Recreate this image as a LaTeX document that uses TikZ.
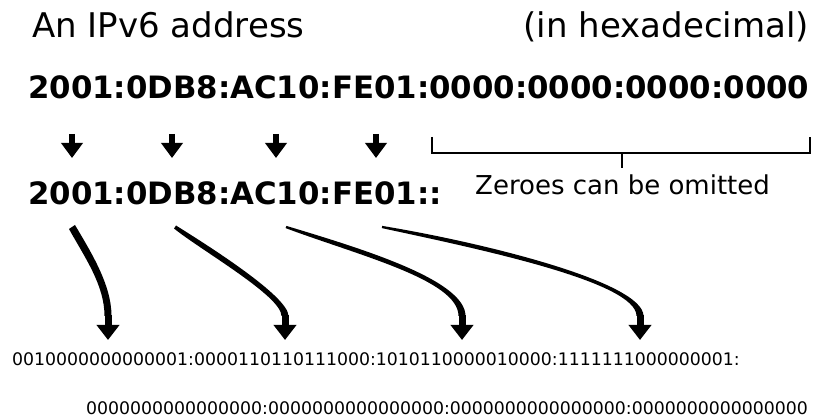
\documentclass[tikz,border=0pt]{standalone}
\usepackage{fontspec}
\setmainfont{DejaVu Sans}
\usetikzlibrary{arrows.meta,calc}

\tikzset{
  heading/.style={inner sep=0pt, font=\fontsize{34}{40}\selectfont},
  hexaddr/.style={inner sep=0pt, font=\fontsize{30.8}{36}\selectfont\bfseries},
  remark/.style={inner sep=0pt, font=\fontsize{26}{30}\selectfont},
  bits/.style={inner sep=0pt, font=\fontsize{17.3}{20}\selectfont},
  hexarrow/.style={line width=5.5pt, -{Triangle[width=21pt,length=15pt]}},
  bitarrow/.style={line width=7pt, -{Triangle[width=22pt,length=15pt]}},
  bracket/.style={line width=2.2pt},
}

\begin{document}
\begin{tikzpicture}[x=1pt,y=-1pt]
\useasboundingbox (0,0) rectangle (814,419);

\node[heading, anchor=base west] (title) at (32,38) {An IPv6 address};
\node[heading, anchor=base east] (hexnote) at (809,38) {(in hexadecimal)};

\node[hexaddr, anchor=base west] (full) at (28,99) {2001:0DB8:AC10:FE01:0000:0000:0000:0000};
\node[hexaddr, anchor=base west] (short) at (28,205) {2001:0DB8:AC10:FE01::};

\node[remark, anchor=base west] (omit) at (475,195) {Zeroes can be omitted};

\node[bits, anchor=base west] (bin1) at (12,366) {0010000000000001:0000110110111000:1010110000010000:1111111000000001:};
\node[bits, anchor=base west] (bin2) at (86,414) {0000000000000000:0000000000000000:0000000000000000:0000000000000000};

\coordinate (a1) at (72,134);  \coordinate (b1) at (72,158);
\coordinate (a2) at (172,134); \coordinate (b2) at (172,158);
\coordinate (a3) at (276,134); \coordinate (b3) at (276,158);
\coordinate (a4) at (376,134); \coordinate (b4) at (376,158);
\draw[hexarrow] (a1) -- (b1);
\draw[hexarrow] (a2) -- (b2);
\draw[hexarrow] (a3) -- (b3);
\draw[hexarrow] (a4) -- (b4);

\coordinate (bl) at (432,137);
\coordinate (br) at (810,137);
\coordinate (bm) at (622,153);
\coordinate (bt) at (622,168);
\draw[bracket] (bl) -- ++(0,16) -| (br);
\draw[bracket] (bm) -- (bt);

\coordinate (s1) at (72,227);  \coordinate (e1) at (108,316); \coordinate (t1) at (108,340);
\coordinate (s2) at (175,227); \coordinate (e2) at (285,316); \coordinate (t2) at (285,340);
\coordinate (s3) at (286,227); \coordinate (e3) at (462,316); \coordinate (t3) at (462,340);
\coordinate (s4) at (382,227); \coordinate (e4) at (640,316); \coordinate (t4) at (640,340);

\fill ($(s1)+(-3,2)$) .. controls (84.5,257) and (104.5,285) .. ($(e1)+(-3.5,0)$)
  -- ($(e1)+(3.5,0)$) .. controls (111.5,285) and (91.5,253) .. ($(s1)+(3,-2)$) -- cycle;
\fill ($(s2)+(-1,1.5)$) .. controls (200.5,250) and (281.5,296) .. ($(e2)+(-3.5,0)$)
  -- ($(e2)+(3.5,0)$) .. controls (288.5,296) and (205.5,244) .. ($(s2)+(1,-1.5)$) -- cycle;
\fill ($(s3)+(-0.4,1.1)$) .. controls (358.7,255.5) and (458.5,280) .. ($(e3)+(-3.5,0)$)
  -- ($(e3)+(3.5,0)$) .. controls (465.5,280) and (361.3,248.5) .. ($(s3)+(0.4,-1.1)$) -- cycle;
\fill ($(s4)+(-0.2,1.1)$) .. controls (481.3,249.5) and (636.5,282) .. ($(e4)+(-3.5,0)$)
  -- ($(e4)+(3.5,0)$) .. controls (643.5,282) and (482.7,242.5) .. ($(s4)+(0.2,-1.1)$) -- cycle;

\draw[bitarrow] ($(e1)+(0,-1)$) -- (t1);
\draw[bitarrow] ($(e2)+(0,-1)$) -- (t2);
\draw[bitarrow] ($(e3)+(0,-1)$) -- (t3);
\draw[bitarrow] ($(e4)+(0,-1)$) -- (t4);
\end{tikzpicture}
\end{document}
